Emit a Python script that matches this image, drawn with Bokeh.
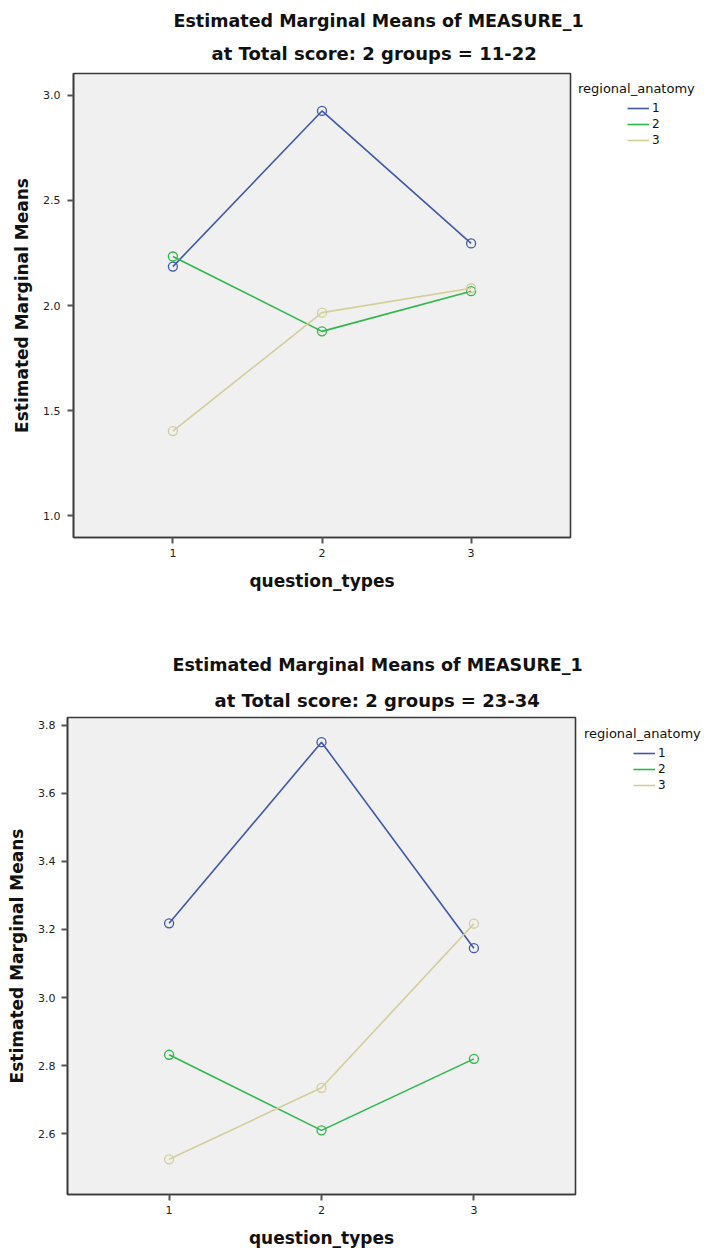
from bokeh.plotting import figure
from bokeh.layouts import column
from bokeh.models import Legend, LegendItem, FixedTicker, NumeralTickFormatter, Range1d, Title
from bokeh.embed import file_html
from bokeh.resources import INLINE

# ---- data ----
question_types = [1, 2, 3]
group_names = ["1", "2", "3"]
group_colors = ["#3E58AC", "#2EB848", "#D3CE97"]

# Total score group 11-22
low_g1 = [2.185, 2.925, 2.295]
low_g2 = [2.233, 1.877, 2.068]
low_g3 = [1.403, 1.966, 2.082]

# Total score group 23-34
high_g1 = [3.218, 3.750, 3.145]
high_g2 = [2.832, 2.610, 2.820]
high_g3 = [2.525, 2.735, 3.217]

low_yticks = [1.0, 1.5, 2.0, 2.5, 3.0]
high_yticks = [2.6, 2.8, 3.0, 3.2, 3.4, 3.6, 3.8]

title_main = "Estimated Marginal Means of MEASURE_1"
low_subtitle = "at Total score: 2 groups = 11-22"
high_subtitle = "at Total score: 2 groups = 23-34"
legend_title = "regional_anatomy"
x_label = "question_types"
y_label = "Estimated Marginal Means"

FONT = "DejaVu Sans"


def make_chart(series, yticks, yr, fw, fh, borders, subtitle,
               t1_off, t2_off, t1_so, t2_so, ylab_standoff, leg_margin):
    left, right, top, bottom = borders
    p = figure(frame_width=fw, frame_height=fh, output_backend="svg",
               toolbar_location=None, title=None,
               x_range=Range1d(1 / 3, 3 + 2 / 3), y_range=Range1d(*yr),
               min_border_left=left, min_border_right=right,
               min_border_top=top, min_border_bottom=bottom)
    p.background_fill_color = "#F0F0F0"
    p.border_fill_color = "white"
    p.outline_line_color = "#3A3A3A"
    p.outline_line_width = 1.6
    p.grid.visible = False

    for ax in (p.xaxis[0], p.yaxis[0]):
        ax.axis_line_color = "#3A3A3A"
        ax.axis_line_width = 1.6
        ax.major_tick_line_color = "#555555"
        ax.major_tick_line_width = 2
        ax.major_tick_out = 6
        ax.major_tick_in = 0
        ax.minor_tick_line_color = None
        ax.major_label_text_font = FONT
        ax.major_label_text_font_size = "11px"
        ax.major_label_text_color = "#222222"
        ax.axis_label_text_font = FONT
        ax.axis_label_text_font_style = "bold"
        ax.axis_label_text_font_size = "17px"
        ax.axis_label_text_color = "#111111"

    p.xaxis.ticker = FixedTicker(ticks=question_types)
    p.xaxis.axis_label = x_label
    p.xaxis.major_label_standoff = 5
    p.xaxis.axis_label_standoff = 11
    p.yaxis.ticker = FixedTicker(ticks=yticks)
    p.yaxis.formatter = NumeralTickFormatter(format="0.0")
    p.yaxis.axis_label = y_label
    p.yaxis.major_label_standoff = ylab_standoff
    p.yaxis.axis_label_standoff = 8

    real_items = []
    spacer_items = []
    for name, color, vals in zip(group_names, group_colors, series):
        r = p.line(question_types, vals, line_color=color, line_width=1.6)
        p.scatter(question_types, vals, marker="circle", size=9,
                  fill_color=None, line_color=color, line_width=1.3)
        real_items.append(LegendItem(label=name, renderers=[r]))
        d = p.line(question_types, vals, line_alpha=0)
        spacer_items.append(LegendItem(label=" ", renderers=[d]))

    leg = Legend(items=spacer_items + real_items, location="top_left",
                 orientation="vertical", nrows=3,
                 title=legend_title, title_text_font=FONT,
                 title_text_font_size="13px", title_text_font_style="normal",
                 title_text_color="#111111", title_standoff=5,
                 glyph_width=22, glyph_height=14, label_height=14,
                 label_width=22, spacing=2, padding=0, margin=leg_margin,
                 label_standoff=3, label_text_font=FONT,
                 label_text_font_size="12px", label_text_color="#111111",
                 border_line_color=None, background_fill_alpha=0)
    p.add_layout(leg, "right")

    p.add_layout(Title(text=subtitle, align="left", offset=t2_off,
                       vertical_align="middle", standoff=t2_so,
                       text_font=FONT, text_font_style="bold",
                       text_font_size="18px", text_color="#111111"), "above")
    p.add_layout(Title(text=title_main, align="left", offset=t1_off,
                       vertical_align="middle", standoff=t1_so,
                       text_font=FONT, text_font_style="bold",
                       text_font_size="17.5px", text_color="#111111"), "above")
    return p


p1 = make_chart([low_g1, low_g2, low_g3], low_yticks, (0.897, 3.103),
                497, 464, (73, 154, 73, 101), low_subtitle,
                100, 138, 1, 18, 7, 8)

p2 = make_chart([high_g1, high_g2, high_g3], high_yticks, (2.4216, 3.8226),
                508, 477, (67, 149, 79, 58), high_subtitle,
                105, 147, 13, 12, 6, 9)

layout = column(column(p1), column(p2))
open("out.html", "w").write(file_html(layout, INLINE))
